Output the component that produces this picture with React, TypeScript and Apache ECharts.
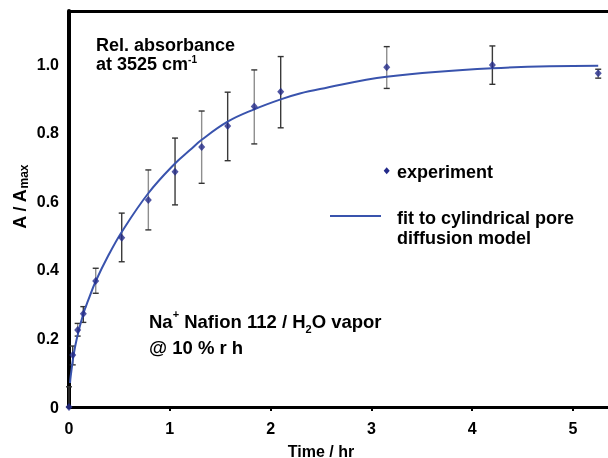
import React, { useEffect, useRef } from 'react';
import * as echarts from 'echarts';

// Measured experiment (time in hr as placed on the axis, relative absorbance)
const timeHr = [0, 0.037, 0.086, 0.142, 0.265, 0.523, 0.787, 1.052, 1.316, 1.574, 1.838, 2.1, 3.152, 4.2, 5.25];
const absorbance = [0, 0.152, 0.225, 0.272, 0.368, 0.494, 0.604, 0.687, 0.759, 0.82, 0.877, 0.92, 0.992, 0.998, 0.974];
const errLow = [0, 0.123, 0.207, 0.247, 0.332, 0.424, 0.517, 0.59, 0.653, 0.719, 0.768, 0.815, 0.93, 0.942, 0.96];
const errHigh = [0.059, 0.178, 0.244, 0.293, 0.405, 0.566, 0.692, 0.785, 0.864, 0.919, 0.984, 1.023, 1.052, 1.054, 0.986];

// Fit to cylindrical pore diffusion model
const fitTime = [0.01, 0.017, 0.043, 0.076, 0.142, 0.19, 0.265, 0.39, 0.523, 0.787, 1.052, 1.2, 1.316, 1.574, 1.838, 2.1, 2.29, 2.49, 3.15, 4.2, 5.25];
const fitValue = [0.07, 0.09, 0.147, 0.198, 0.272, 0.311, 0.367, 0.442, 0.511, 0.624, 0.711, 0.75, 0.78, 0.833, 0.869, 0.898, 0.915, 0.928, 0.964, 0.989, 0.996];

const xTicks = [0, 1, 2, 3, 4, 5];
const xTickMarks = [1, 2, 3, 4, 5];

const FONT = "'Liberation Sans', Arial, Helvetica, sans-serif";
const BLUE = '#3953ad';
const NAVY = '#232a8a';

export default function App() {
  const ref = useRef<HTMLDivElement>(null);

  useEffect(() => {
    if (!ref.current) return;
    const chart = echarts.init(ref.current, undefined, { renderer: 'svg' });

    const option: any = {
      animation: false,
      grid: { left: 69, right: 0, top: 11, bottom: 51, containLabel: false },
      xAxis: [
        {
          type: 'value',
          min: 0,
          max: 5.347,
          interval: 1,
          axisLine: { show: true, onZero: false, lineStyle: { color: '#000', width: 3 } },
          axisTick: { show: true, length: 4, customValues: xTickMarks, lineStyle: { color: '#000', width: 2 } },
          axisLabel: {
            customValues: xTicks,
            formatter: (v: number) => String(v),
            fontSize: 16,
            fontWeight: 'bold',
            color: '#000',
            fontFamily: FONT,
            margin: 13,
          },
          splitLine: { show: false },
        },
        {
          type: 'value',
          position: 'top',
          min: 0,
          max: 5.347,
          axisLine: { show: true, onZero: false, lineStyle: { color: '#000', width: 3 } },
          axisTick: { show: false },
          axisLabel: { show: false },
          splitLine: { show: false },
        },
      ],
      yAxis: {
        type: 'value',
        min: 0,
        max: 1.156,
        interval: 0.2,
        axisLine: { show: true, onZero: false, lineStyle: { color: '#000', width: 4 } },
        axisTick: { show: false },
        axisLabel: {
          showMaxLabel: false,
          formatter: (v: number) => {
            const k = Math.round(v / 0.2);
            if (Math.abs(v - k * 0.2) > 1e-6) return '';
            return v === 0 ? '0' : v.toFixed(1);
          },
          fontSize: 16,
          fontWeight: 'bold',
          color: '#000',
          fontFamily: FONT,
          margin: 10,
        },
        splitLine: { show: false },
      },
      series: [
        {
          type: 'line',
          name: 'fit to cylindrical pore diffusion model',
          data: fitTime.map((t, i) => [t, fitValue[i]]),
          smooth: 0.4,
          showSymbol: false,
          lineStyle: { color: BLUE, width: 2 },
          z: 3,
        },
        {
          type: 'custom',
          name: 'error',
          data: timeHr.map((t, i) => [t, errLow[i], errHigh[i]]),
          encode: { x: 0, y: [1, 2] },
          renderItem: (params: any, api: any) => {
            const x = api.value(0);
            const lo = api.value(1);
            const hi = api.value(2);
            const top = api.coord([x, hi]);
            const bot = api.coord([x, lo]);
            const idx = params.dataIndex;
            const color = idx % 2 === 1 || idx === 0 ? '#3a3a3a' : '#8e8e8e';
            const cap = 3;
            return {
              type: 'group',
              children: [
                { type: 'line', shape: { x1: top[0], y1: top[1], x2: bot[0], y2: bot[1] }, style: { stroke: color, lineWidth: 1.4 } },
                { type: 'line', shape: { x1: top[0] - cap, y1: top[1], x2: top[0] + cap, y2: top[1] }, style: { stroke: '#333', lineWidth: 1.4 } },
                { type: 'line', shape: { x1: bot[0] - cap, y1: bot[1], x2: bot[0] + cap, y2: bot[1] }, style: { stroke: '#333', lineWidth: 1.4 } },
              ],
            };
          },
          z: 2,
        },
        {
          type: 'scatter',
          name: 'experiment',
          data: timeHr.map((t, i) => [t, absorbance[i]]),
          symbol: 'diamond',
          symbolSize: [7, 8],
          itemStyle: { color: NAVY },
          z: 4,
        },
      ],
      graphic: [
        {
          type: 'text',
          x: 96,
          y: 35,
          style: {
            text: '{n|Rel. absorbance}\n{n|at 3525 cm}{s|-1}',
            fill: '#000',
            align: 'left',
            verticalAlign: 'top',
            rich: {
              n: { fontSize: 18, fontWeight: 'bold', fontFamily: FONT, lineHeight: 19, fill: '#000' },
              s: { fontSize: 10, fontWeight: 'bold', fontFamily: FONT, lineHeight: 12, verticalAlign: 'top', fill: '#000' },
            },
          },
        },
        {
          type: 'text',
          x: 149,
          y: 308,
          style: {
            text: '{n|Na}{sp|+}{n| Nafion 112 / H}{sb|2}{n|O vapor}\n{n|@ 10 % r h}',
            fill: '#000',
            align: 'left',
            verticalAlign: 'top',
            rich: {
              n: { fontSize: 18.5, fontWeight: 'bold', fontFamily: FONT, lineHeight: 26.6, fill: '#000' },
              sp: { fontSize: 11, fontWeight: 'bold', fontFamily: FONT, lineHeight: 20, verticalAlign: 'top', fill: '#000' },
              sb: { fontSize: 11, fontWeight: 'bold', fontFamily: FONT, lineHeight: 20, verticalAlign: 'bottom', fill: '#000' },
            },
          },
        },
        {
          type: 'polygon',
          shape: { points: [[386.7, 167.2], [389.7, 170.7], [386.7, 174.2], [383.7, 170.7]] },
          style: { fill: NAVY },
        },
        {
          type: 'text',
          x: 397,
          y: 172,
          style: { text: 'experiment', fill: '#000', fontSize: 18, fontWeight: 'bold', fontFamily: FONT, align: 'left', verticalAlign: 'middle' },
        },
        {
          type: 'line',
          shape: { x1: 330, y1: 216, x2: 381, y2: 216 },
          style: { stroke: BLUE, lineWidth: 2 },
        },
        {
          type: 'text',
          x: 397,
          y: 207.5,
          style: {
            text: 'fit to cylindrical pore\ndiffusion model',
            fill: '#000',
            fontSize: 18,
            fontWeight: 'bold',
            fontFamily: FONT,
            lineHeight: 20,
            align: 'left',
            verticalAlign: 'top',
          },
        },
        {
          type: 'text',
          x: 321,
          y: 451,
          style: { text: 'Time / hr', fill: '#000', fontSize: 16, fontWeight: 'bold', fontFamily: FONT, align: 'center', verticalAlign: 'middle' },
        },
        {
          type: 'text',
          x: 20,
          y: 197,
          rotation: Math.PI / 2,
          style: {
            text: '{n|A / A}{s|max}',
            fill: '#000',
            align: 'center',
            verticalAlign: 'middle',
            rich: {
              n: { fontSize: 18, fontWeight: 'bold', fontFamily: FONT, lineHeight: 20, fill: '#000' },
              s: { fontSize: 12, fontWeight: 'bold', fontFamily: FONT, lineHeight: 10, verticalAlign: 'bottom', fill: '#000' },
            },
          },
        },
      ],
    };

    chart.setOption(option);
    return () => chart.dispose();
  }, []);

  return <div ref={ref} style={{ position: 'fixed', left: 0, top: 0, width: 608, height: 458 }} />;
}
